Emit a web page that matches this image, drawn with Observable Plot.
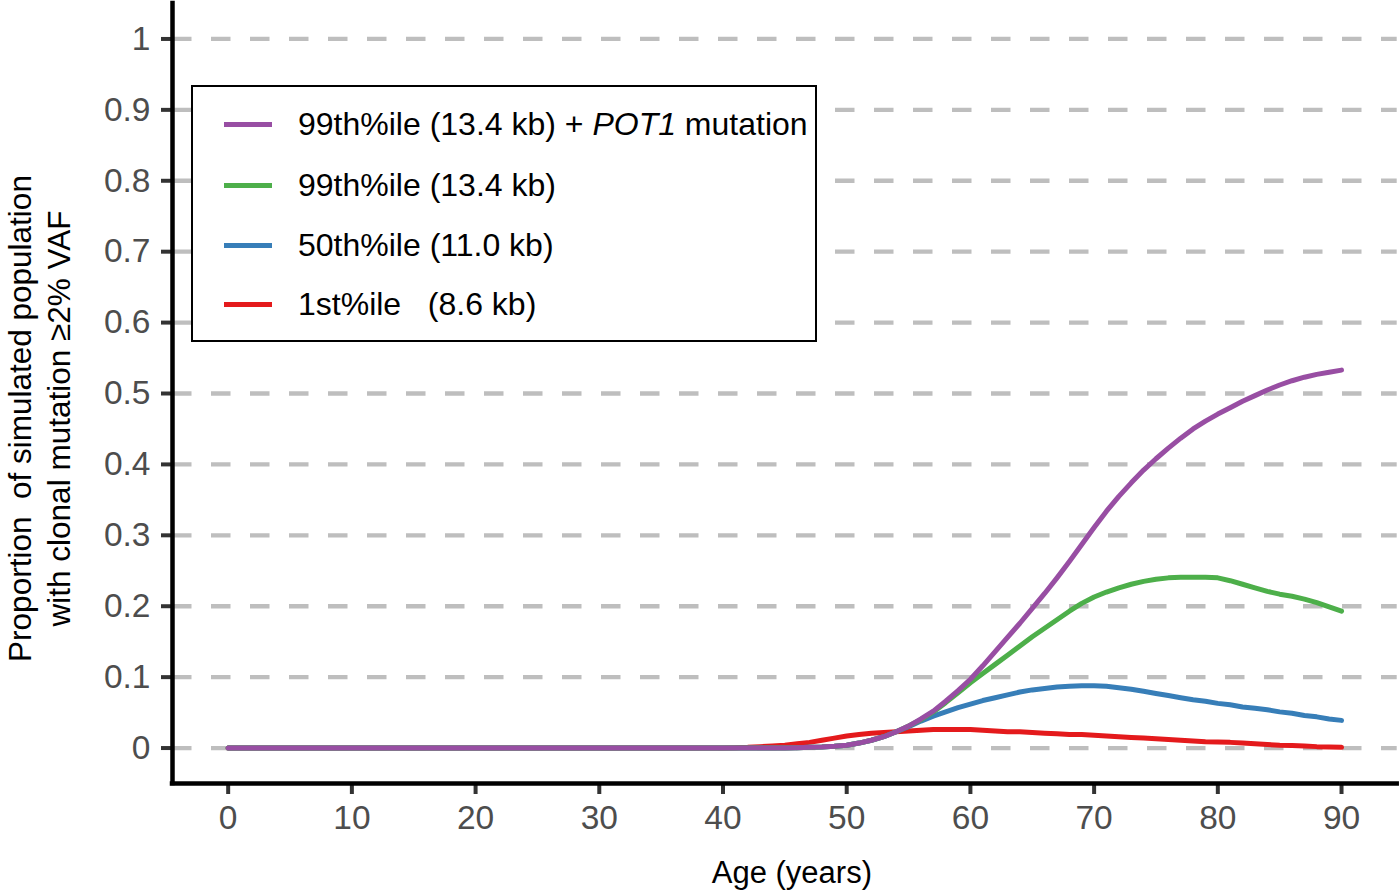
<!DOCTYPE html>
<html><head><meta charset="utf-8">
<script src="https://cdn.jsdelivr.net/npm/d3@7"></script>
<script src="https://cdn.jsdelivr.net/npm/@observablehq/plot@0.6"></script>
<style>
html,body{margin:0;padding:0;background:#fff;}
#wrap{position:relative;width:1400px;height:892px;font-family:"Liberation Sans",Arial,sans-serif;}
svg text{white-space:pre;}
#legend{position:absolute;left:191px;top:85px;width:626px;height:257px;box-sizing:border-box;border:2px solid #000;background:#fff;}
.row{position:absolute;left:0;height:40px;line-height:40px;width:100%;}
.sw{position:absolute;left:31px;top:17.5px;width:48px;height:5px;}
.lb{position:absolute;left:105px;top:0;font-size:32px;white-space:pre;color:#000;}
</style></head>
<body><div id="wrap"></div>
<script>
const ages = [0,40,41,42,43,44,45,46,47,48,49,50,51,52,53,54,55,56,57,58,59,60,61,62,63,64,65,66,67,68,69,70,71,72,73,74,75,76,77,78,79,80,81,82,83,84,85,86,87,88,89,90];
const pot1 = [0, 0,0,0,0,0,0, 0.0005,0.001,0.0015,0.0025, 0.004,0.007,0.011,0.016,0.023,0.031,0.041,0.052,0.066,0.081, 0.097,0.116,0.136,0.156,0.176,0.197,0.218,0.240,0.263,0.287, 0.311,0.334,0.355,0.374,0.392,0.408,0.423,0.437,0.450,0.461, 0.471,0.480,0.489,0.497,0.505,0.512,0.518,0.523,0.527,0.530, 0.533];
const p99 = [0, 0,0,0,0,0,0, 0.0005,0.001,0.0015,0.0025, 0.004,0.007,0.011,0.016,0.023,0.031,0.040,0.051,0.064,0.078, 0.092,0.105,0.118,0.131,0.144,0.157,0.169,0.181,0.193,0.204, 0.213,0.220,0.226,0.231,0.235,0.238,0.240,0.241,0.241,0.241, 0.240,0.236,0.231,0.226,0.221,0.217,0.214,0.210,0.205,0.199, 0.193];
const p50 = [0, 0,0,0,0,0,0, 0.0005,0.001,0.0015,0.0025, 0.004,0.007,0.011,0.016,0.023,0.030,0.038,0.045,0.051,0.057, 0.062,0.067,0.071,0.075,0.079,0.082,0.084,0.086,0.087,0.088, 0.088,0.087,0.085,0.083,0.080,0.077,0.074,0.071,0.068,0.066, 0.063,0.061,0.058,0.056,0.054,0.051,0.049,0.046,0.044,0.041, 0.039];
const p1 = [0, 0,0.0005,0.001,0.002,0.003,0.004, 0.006,0.008,0.011,0.014, 0.017,0.019,0.021,0.022,0.023,0.024,0.025,0.026,0.026,0.026, 0.026,0.025,0.024,0.023,0.023,0.022,0.021,0.020,0.019,0.019, 0.018,0.017,0.016,0.015,0.014,0.013,0.012,0.011,0.010,0.009, 0.0085,0.008,0.007,0.006,0.005,0.004,0.0035,0.003,0.002,0.0015, 0.001];

const seriesKeys = ["pot1", "p99", "p50", "p1"];
const seriesLabels = ["99th%ile (13.4 kb) + <i>POT1</i> mutation", "99th%ile (13.4 kb)", "50th%ile (11.0 kb)", "1st%ile   (8.6 kb)"];
const seriesColors = ["#984ea3", "#4daf4a", "#377eb8", "#e41a1c"];
const seriesValues = {pot1, p99, p50, p1};
const drawOrder = ["p1", "p50", "p99", "pot1"];

const xTicks = [0,10,20,30,40,50,60,70,80,90];
const yTicks = [0,0.1,0.2,0.3,0.4,0.5,0.6,0.7,0.8,0.9,1];
const yLabels = ["0","0.1","0.2","0.3","0.4","0.5","0.6","0.7","0.8","0.9","1"];
const xTitle = "Age (years)";
const yTitle = "Proportion  of simulated population\nwith clonal mutation \u22652% VAF";

const table = [];
for (const k of drawOrder) ages.forEach((a, i) => table.push({age: a, value: seriesValues[k][i], series: k}));

const plot = Plot.plot({
  width: 1400, height: 892,
  marginLeft: 172, marginRight: 3.3, marginTop: 3, marginBottom: 109,
  x: {domain: [-4.5, 94.5]},
  y: {domain: [-0.05, 1.05]},
  color: {domain: seriesKeys, range: seriesColors},
  style: {fontFamily: "'Liberation Sans', Arial, sans-serif", background: "white", overflow: "visible"},
  marks: [
    Plot.ruleY(yTicks, {stroke: "#bebebe", strokeWidth: 4.3, strokeDasharray: "19.5,19.5"}),
    Plot.line(table, {x: "age", y: "value", z: "series", stroke: "series", strokeWidth: 5, strokeLinejoin: "round"}),
    Plot.axisX({ticks: xTicks, tickSize: 11, tickPadding: 11, fontSize: 33.5, stroke: "#333", strokeWidth: 4, fill: "#4d4d4d", label: null}),
    Plot.axisY({ticks: yTicks, tickFormat: d => yLabels[yTicks.indexOf(d)], tickSize: 11, tickPadding: 11, fontSize: 33.5, stroke: "#333", strokeWidth: 4, fill: "#4d4d4d", label: null}),
    Plot.ruleX([-4.5], {stroke: "#000", strokeWidth: 4.5, strokeLinecap: "square"}),
    Plot.ruleY([-0.05], {stroke: "#000", strokeWidth: 4.5, strokeLinecap: "square"}),
    Plot.text([yTitle], {frameAnchor: "left", rotate: -90, dx: -168.5, dy: 25, lineAnchor: "top", textAnchor: "middle", fontSize: 31.5, lineHeight: 1.22, fill: "#000"}),
    Plot.text([xTitle], {frameAnchor: "bottom", dx: 7, dy: 77, lineAnchor: "top", fontSize: 31, fill: "#000"})
  ]
});

const wrap = document.getElementById("wrap");
wrap.appendChild(plot);

const legend = document.createElement("div");
legend.id = "legend";
const rowTops = [17, 78, 138, 197];
seriesKeys.forEach((k, i) => {
  const row = document.createElement("div");
  row.className = "row";
  row.style.top = rowTops[i] + "px";
  row.innerHTML = `<div class="sw" style="background:${seriesColors[i]}"></div><div class="lb">${seriesLabels[i]}</div>`;
  legend.appendChild(row);
});
wrap.appendChild(legend);
</script>
</body></html>
